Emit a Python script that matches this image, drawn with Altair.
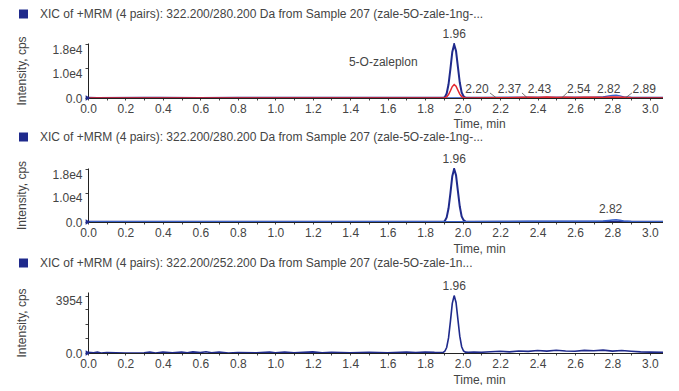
import altair as alt
import pandas as pd

FONT = "Liberation Sans"
NAVY = "#1f2a8c"
RED = "#e3262d"
BLUE = "#3a62c9"
TXT = "#444444"
FS = 12

titles = [
    "XIC of +MRM (4 pairs): 322.200/280.200 Da from Sample 207 (zale-5O-zale-1ng-...",
    "XIC of +MRM (4 pairs): 322.200/280.200 Da from Sample 207 (zale-5O-zale-1ng-...",
    "XIC of +MRM (4 pairs): 322.200/252.200 Da from Sample 207 (zale-5O-zale-1n...",
]

x_ticks = [0.0, 0.1, 0.2, 0.3, 0.4, 0.5, 0.6, 0.7, 0.8, 0.9, 1.0, 1.1, 1.2, 1.3, 1.4,
           1.5, 1.6, 1.7, 1.8, 1.9, 2.0, 2.1, 2.2, 2.3, 2.4, 2.5, 2.6, 2.7, 2.8, 2.9, 3.0]

# ---- panel 1 ----
p1_navy_t = [0.00, 0.05, 0.30, 0.38, 0.60, 0.80, 1.10, 1.40, 1.70, 1.85, 1.895, 1.905, 1.915,
             1.925, 1.935, 1.945, 1.955, 1.965, 1.975, 1.985, 1.995, 2.005, 2.015, 2.03, 2.10,
             2.30, 2.50, 2.70, 2.90, 3.07]
p1_navy_v = [60, 40, 50, 120, 40, 110, 120, 50, 60, 80, 50, 300, 1500, 4600, 9800, 15500, 18000,
             15800, 10500, 5200, 1900, 600, 180, 80, 70, 90, 60, 80, 60, 70]
p1_red_t = [0.00, 1.85, 1.895, 1.905, 1.915, 1.925, 1.935, 1.945, 1.955, 1.965, 1.975, 1.985,
            1.995, 2.005, 2.015, 2.03, 2.20, 2.30, 2.35, 2.40, 2.45, 2.50, 2.55, 2.60, 2.65,
            2.70, 2.75, 2.80, 2.85, 2.90, 3.00, 3.07]
p1_red_v = [0, 10, 20, 90, 380, 1150, 2450, 3850, 4500, 3950, 2600, 1300, 480, 150, 50, 20, 60,
            150, 250, 180, 300, 200, 260, 150, 220, 280, 200, 300, 250, 120, 40, 20]
p1_blue_t = [0.0, 0.5, 1.0, 1.5, 1.9, 2.1, 2.3, 2.45, 2.6, 2.7, 2.75, 2.78, 2.80, 2.82, 2.84,
             2.86, 2.9, 3.0, 3.07]
p1_blue_v = [40, 60, 50, 40, 60, 120, 200, 260, 200, 240, 400, 700, 900, 950, 750, 400, 180, 90, 60]
p1_lbl_t = [2.077, 2.25, 2.41, 2.62, 2.78, 2.97]
p1_lbl = ["2.20", "2.37", "2.43", "2.54", "2.82", "2.89"]
p1_lead_t1 = [2.146, 2.317, 2.557, 2.904]
p1_lead_t2 = [2.178, 2.344, 2.531, 2.872]

# ---- panel 2 ----
p2_navy_t = [0.00, 0.20, 0.50, 0.80, 1.10, 1.40, 1.70, 1.85, 1.895, 1.905, 1.915, 1.925, 1.935,
             1.945, 1.955, 1.965, 1.975, 1.985, 1.995, 2.005, 2.015, 2.03, 2.10, 2.40, 2.70, 3.07]
p2_navy_v = [60, 50, 70, 60, 50, 60, 70, 60, 60, 320, 1550, 4700, 9900, 15700, 18200, 16000,
             10600, 5300, 1900, 620, 190, 90, 70, 80, 70, 60]
p2_blue_t = [0.0, 0.5, 1.0, 1.5, 1.9, 2.05, 2.2, 2.35, 2.5, 2.6, 2.7, 2.75, 2.78, 2.80, 2.82,
             2.84, 2.86, 2.9, 3.0, 3.07]
p2_blue_v = [60, 70, 60, 60, 70, 90, 180, 220, 250, 220, 240, 350, 550, 700, 760, 600, 380,
             200, 90, 60]

# ---- panel 3 ----
p3_t = [0.00, 0.03, 0.05, 0.07, 0.10, 0.20, 0.30, 0.33, 0.36, 0.40, 0.45, 0.50, 0.53, 0.56,
        0.60, 0.63, 0.66, 0.70, 0.75, 0.80, 0.90, 0.97, 1.00, 1.05, 1.10, 1.15, 1.20, 1.25,
        1.30, 1.40, 1.50, 1.60, 1.70, 1.75, 1.80, 1.85, 1.895, 1.905, 1.915, 1.925, 1.935,
        1.945, 1.955, 1.965, 1.975, 1.985, 1.995, 2.005, 2.015, 2.03, 2.06, 2.10, 2.15, 2.20,
        2.25, 2.30, 2.35, 2.40, 2.45, 2.50, 2.55, 2.60, 2.65, 2.70, 2.75, 2.80, 2.85, 2.90,
        2.95, 3.00, 3.07]
p3_v = [40, 10, 60, 0, 30, 0, 20, 70, 0, 60, 20, 70, 10, 80, 30, 90, 20, 60, 0, 30, 10, 60, 20,
        70, 10, 40, 80, 20, 50, 10, 40, 20, 60, 30, 70, 40, 30, 120, 380, 1040, 2180, 3420, 3954,
        3480, 2320, 1160, 430, 140, 60, 40, 70, 50, 90, 120, 80, 140, 110, 170, 130, 190, 140,
        120, 180, 150, 200, 130, 170, 120, 80, 60, 40]

x_label_expr = "round(datum.value * 10) % 2 == 0 ? format(datum.value, '.1f') : ''"


def make_panel(layers, ymax, vals, labels, title, title_dy, height, xtitle_y):
    expr = " : ".join(
        [f"datum.value == {v} ? '{l}'" for v, l in zip(vals, labels)] + ["''"]
    )
    xe = alt.X(
        "t:Q",
        scale=alt.Scale(domain=[0, 3.07], nice=False, zero=False),
        axis=alt.Axis(values=x_ticks, labelExpr=x_label_expr, title="Time, min",
                      titleX=391, titleY=xtitle_y, titleBaseline="middle", titleAlign="center",
                      tickSize=2, labelPadding=3, grid=False, labelFlush=False,
                      labelOverlap=False),
    )
    ye = alt.Y(
        "v:Q",
        scale=alt.Scale(domain=[0, ymax], nice=False, zero=True),
        axis=alt.Axis(values=vals, labelExpr=expr, title="Intensity, cps", titleX=-67,
                      titleBaseline="middle", tickSize=3, labelPadding=3, grid=False,
                      labelOverlap=False, labelFlush=False,
                      labelBaseline={"condition": {"test": "datum.value > 0", "value": "top"},
                                     "value": "middle"}),
    )
    built = []
    for kind, df, opts in layers:
        c = alt.Chart(df)
        if kind == "line":
            c = c.mark_line(clip=True, **opts).encode(x=xe, y=ye)
        elif kind == "point":
            c = c.mark_point(**opts).encode(x=xe, y=ye)
        elif kind == "text":
            c = c.mark_text(font=FONT, fontSize=FS, color=TXT, **opts).encode(
                x=xe, y=ye, text="s:N")
        elif kind == "rule":
            c = c.mark_rule(**opts).encode(x=xe, x2="t2:Q", y=ye, y2="v2:Q")
        built.append(c)
    hdf = pd.DataFrame({"s": [title]})
    built.append(alt.Chart(hdf).mark_square(size=81, color=NAVY, opacity=1).encode(
        x=alt.value(-64.5), y=alt.value(title_dy)))
    built.append(alt.Chart(hdf).mark_text(align="left", baseline="middle", font=FONT,
                                          fontSize=FS, color=TXT).encode(
        x=alt.value(-48), y=alt.value(title_dy), text="s:N"))
    return alt.layer(*built).properties(width=575, height=height)


def df_tv(t, v):
    return pd.DataFrame({"t": t, "v": v})


origin = pd.DataFrame({"t": [0.0], "v": [0.0]})
origin_opts = dict(shape="triangle-right", filled=True, size=30, color=NAVY, opacity=1)
peak_opts = dict(baseline="bottom", dy=-3)

# panel 1
y1_vals = [0, 10000, 18000]
y1_labels = ["0.0", "1.0e4", "1.8e4"]
panel1 = make_panel([
    ("line", df_tv(p1_blue_t, p1_blue_v), dict(color=BLUE, strokeWidth=1.2)),
    ("line", df_tv(p1_navy_t, p1_navy_v), dict(color=NAVY, strokeWidth=2)),
    ("line", df_tv(p1_red_t, p1_red_v), dict(color=RED, strokeWidth=1.5)),
    ("point", origin, origin_opts),
    ("text", pd.DataFrame({"t": [1.955], "v": [18000], "s": ["1.96"]}), peak_opts),
    ("text", pd.DataFrame({"t": p1_lbl_t, "v": [3000] * len(p1_lbl_t), "s": p1_lbl}),
     dict(baseline="middle")),
    ("rule", pd.DataFrame({"t": p1_lead_t1, "t2": p1_lead_t2, "v": [1700] * 4,
                           "v2": [150] * 4}), dict(color="#555555", strokeWidth=0.8)),
    ("text", pd.DataFrame({"t": [1.393], "v": [12100], "s": ["5-O-zaleplon"]}),
     dict(align="left", baseline="middle")),
], 18500, y1_vals, y1_labels, titles[0], -29, 55, 25)

# panel 2
panel2 = make_panel([
    ("line", df_tv(p2_navy_t, p2_navy_v), dict(color=NAVY, strokeWidth=2)),
    ("line", df_tv(p2_blue_t, p2_blue_v), dict(color=BLUE, strokeWidth=1.5)),
    ("point", origin, origin_opts),
    ("text", pd.DataFrame({"t": [1.955], "v": [18200], "s": ["1.96"]}), peak_opts),
    ("text", pd.DataFrame({"t": [2.79], "v": [4370], "s": ["2.82"]}), dict(baseline="middle")),
], 18500, y1_vals, y1_labels, titles[1], -31, 54, 26)

# panel 3
y3_vals = [0, 1000, 2000, 3000, 3954]
y3_labels = ["0.0", "", "", "", "3954"]
panel3 = make_panel([
    ("line", df_tv(p3_t, p3_v), dict(color=NAVY, strokeWidth=1.6)),
    ("point", origin, origin_opts),
    ("text", pd.DataFrame({"t": [1.955], "v": [3954], "s": ["1.96"]}), peak_opts),
], 4200, y3_vals, y3_labels, titles[2], -29, 61, 26)

chart = alt.vconcat(panel1, panel2, panel3, spacing=70, bounds="flush").properties(
    padding={"left": 7, "top": 0, "right": 0, "bottom": 0}
).configure_view(strokeWidth=0).configure_axis(
    labelFont=FONT, titleFont=FONT, labelFontSize=FS, titleFontSize=FS,
    titleFontWeight="normal", labelColor=TXT, titleColor=TXT, domainColor="#222222",
    tickColor="#444444", domainWidth=1
)

chart.save("out.html", embed_options={"renderer": "svg", "actions": False})
